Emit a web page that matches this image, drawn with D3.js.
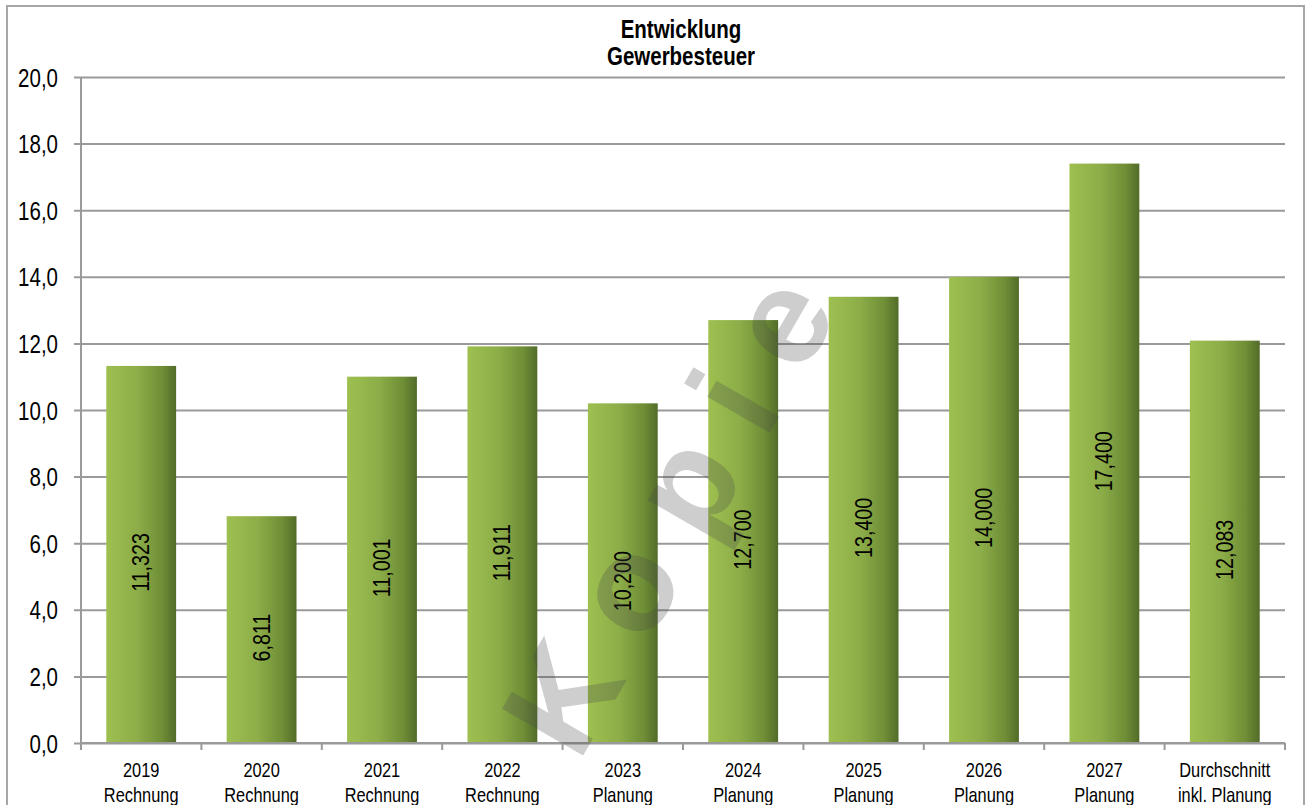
<!DOCTYPE html>
<html>
<head>
<meta charset="utf-8">
<script src="https://cdn.jsdelivr.net/npm/d3@7"></script>
<style>
	body { margin: 0; background: #fff; }
	svg { display: block; }
	text { font-family: "Liberation Sans", Arial, sans-serif; fill: #000; }
</style>
</head>
<body>
<svg id="chart" width="1305" height="805"></svg>
<script>
var categories = [["2019", "Rechnung"], ["2020", "Rechnung"], ["2021", "Rechnung"], ["2022", "Rechnung"],
	["2023", "Planung"], ["2024", "Planung"], ["2025", "Planung"], ["2026", "Planung"], ["2027", "Planung"],
	["Durchschnitt", "inkl. Planung"]]
var values = [11.323, 6.811, 11.001, 11.911, 10.200, 12.700, 13.400, 14.000, 17.400, 12.083]
var yTicks = [0, 2, 4, 6, 8, 10, 12, 14, 16, 18, 20]
var titleLines = ["Entwicklung", "Gewerbesteuer"]

// no narrow font installed, so squeeze Liberation Sans like Arial Narrow
var NARROW = 0.82

var svg = d3.select("#chart")
var pLeft = 81, pRight = 1285, pTop = 77, pBottom = 743

// frame
svg.append("rect")
	.attr("x", 7).attr("y", 6)
	.attr("width", 1297).attr("height", 810)
	.attr("fill", "none")
	.attr("stroke", "#a6a6a6")
	.attr("stroke-width", 2)

var defs = svg.append("defs")
var grad = defs.append("linearGradient")
	.attr("id", "barGrad")
	.attr("x1", "0%").attr("x2", "100%").attr("y1", "0%").attr("y2", "0%")
grad.append("stop").attr("offset", "0%").attr("stop-color", "#9ec050")
grad.append("stop").attr("offset", "45%").attr("stop-color", "#8cad48")
grad.append("stop").attr("offset", "80%").attr("stop-color", "#6f8e36")
grad.append("stop").attr("offset", "100%").attr("stop-color", "#526c29")

var x = d3.scaleBand()
	.domain(d3.range(categories.length))
	.range([pLeft, pRight])
	.paddingInner(0.42)
	.paddingOuter(0.21)

var y = d3.scaleLinear()
	.domain([0, 20])
	.range([pBottom, pTop])

// grid + y axis
svg.append("g")
	.attr("transform", "translate(" + pLeft + ",0)")
	.call(d3.axisLeft(y).tickValues(yTicks).tickSize(-(pRight - pLeft)).tickSizeOuter(0)
		.tickFormat(d => d3.format(".1f")(d).replace(".", ",")))
	.call(g => g.select(".domain").remove())
	.call(g => g.selectAll(".tick line").attr("stroke", "#9a9a9a").attr("stroke-width", 2).attr("x1", -7))
	.call(g => g.selectAll(".tick text")
		.attr("x", -23 / NARROW)
		.attr("dy", "0.36em")
		.attr("transform", "scale(" + NARROW + ",1)")
		.attr("font-family", "'Liberation Sans', Arial, sans-serif")
		.attr("font-size", 25))

svg.append("line")
	.attr("x1", pLeft).attr("x2", pLeft)
	.attr("y1", pTop).attr("y2", pBottom)
	.attr("stroke", "#9a9a9a").attr("stroke-width", 2)

// bars
svg.append("g")
	.selectAll("rect")
	.data(values)
	.join("rect")
	.attr("x", (d, i) => x(i))
	.attr("width", x.bandwidth())
	.attr("y", d => y(d))
	.attr("height", d => y(0) - y(d))
	.attr("fill", "url(#barGrad)")

// bar labels
svg.append("g")
	.selectAll("text")
	.data(values)
	.join("text")
	.attr("transform", (d, i) => "translate(" + (x(i) + x.bandwidth() / 2 + 8) + "," + ((y(d) + y(0)) / 2 + 8) + ") rotate(-90) scale(" + NARROW + ",1)")
	.attr("text-anchor", "middle")
	.attr("font-size", 24)
	.text(d => d3.format(",.3f")(d).replace(".", ","))

// x axis
var step = x.step()
svg.append("line")
	.attr("x1", pLeft).attr("x2", pRight)
	.attr("y1", pBottom).attr("y2", pBottom)
	.attr("stroke", "#9a9a9a").attr("stroke-width", 2)
svg.append("g")
	.selectAll("line")
	.data(d3.range(categories.length + 1))
	.join("line")
	.attr("x1", i => pLeft + i * step).attr("x2", i => pLeft + i * step)
	.attr("y1", pBottom).attr("y2", pBottom + 7)
	.attr("stroke", "#9a9a9a").attr("stroke-width", 2)

svg.append("g")
	.selectAll("text")
	.data(categories)
	.join("text")
	.attr("text-anchor", "middle")
	.attr("font-size", 20)
	.attr("transform", (d, i) => "translate(" + (x(i) + x.bandwidth() / 2) + ",777) scale(" + NARROW + ",1)")
	.selectAll("tspan")
	.data(d => d)
	.join("tspan")
	.attr("x", 0)
	.attr("dy", (d, i) => i == 0 ? 0 : 25)
	.text(d => d)

// title
svg.append("text")
	.attr("text-anchor", "middle")
	.attr("font-size", 25)
	.attr("font-weight", "bold")
	.attr("transform", "translate(681,38) scale(" + NARROW + ",1)")
	.selectAll("tspan")
	.data(titleLines)
	.join("tspan")
	.attr("x", 0)
	.attr("dy", (d, i) => i == 0 ? 0 : 27)
	.text(d => d)

// watermark
svg.append("text")
	.attr("transform", "translate(718,522) rotate(-60)")
	.attr("text-anchor", "middle")
	.attr("font-weight", "bold")
	.attr("font-size", 136)
	.attr("letter-spacing", 36)
	.style("fill", "#4a4a4a")
	.attr("fill-opacity", 0.27)
	.text("Kopie")
</script>
</body>
</html>
